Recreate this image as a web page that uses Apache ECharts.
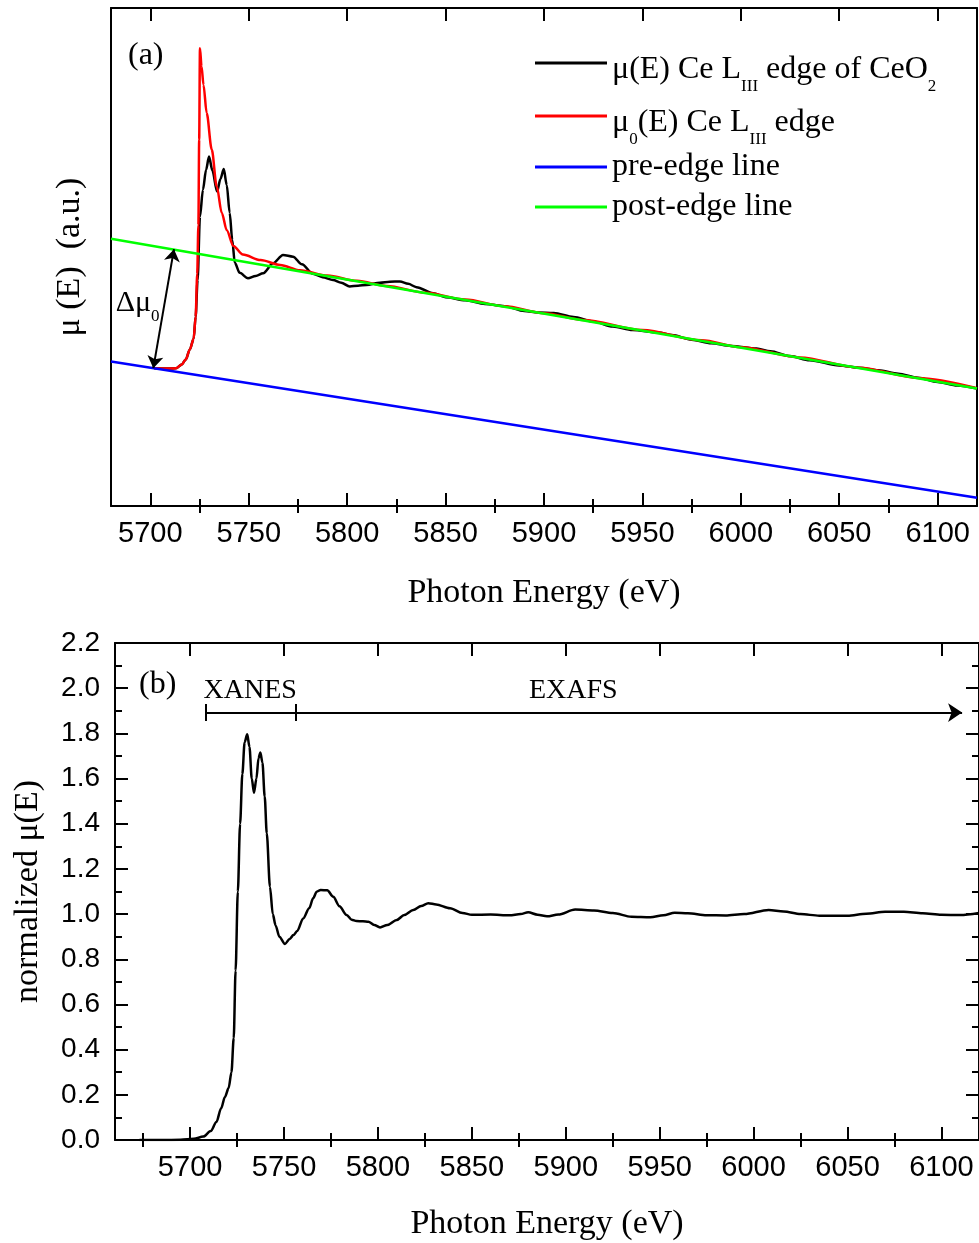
<!DOCTYPE html>
<html><head><meta charset="utf-8">
<script src="https://cdn.jsdelivr.net/npm/echarts@6/dist/echarts.min.js"></script>
<style>html,body{margin:0;padding:0;background:#fff}#c{width:979px;height:1243px}</style>
</head><body><div id="c"></div>
<script>
// ---------- Panel (a) data ----------
const energyMuA = [5702,5708,5713,5716,5718,5720,5722,5723,5724,5725.2,5726.7,5728.3,5729.8,5731.5,5733.9,5735.6,5737.3,5738.8,5740.3,5741.6,5742.9,5745.4,5749.6,5753.5,5757.3,5762.4,5767.4,5772.5,5777,5782.6,5787.5,5792.8,5797,5801.3,5805.5,5809.8,5816.6,5821.7,5826.8,5831,5835.2,5843.7,5850,5860,5870,5880,5890,5897,5905,5915,5925,5935,5945,5958,5965,5975,5985,5995,6008,6015,6025,6035,6050,6060,6070,6080,6090,6100,6110,6120];
const muA = [1.128,1.126,1.128,1.16,1.20,1.28,1.37,1.55,1.85,2.37,2.59,2.754,2.863,2.75,2.576,2.68,2.76,2.63,2.402,2.18,1.992,1.910,1.866,1.885,1.907,1.989,2.057,2.043,1.98,1.902,1.875,1.852,1.83,1.798,1.805,1.811,1.830,1.838,1.839,1.82,1.793,1.743,1.711,1.686,1.655,1.637,1.597,1.585,1.581,1.548,1.511,1.470,1.442,1.422,1.400,1.362,1.334,1.311,1.291,1.267,1.228,1.194,1.152,1.133,1.112,1.084,1.051,1.016,0.987,0.963];
const energyMu0A = [5702,5708,5713,5716,5718,5720,5722,5723,5723.8,5724.4,5724.8,5725.2,5726,5727,5728.6,5731.2,5733.7,5736.3,5738.8,5742.2,5747,5756,5766,5776,5790,5805,5820,5840,5860,5880,5900,5920,5950,5980,6000,6030,6060,6090,6120];
const mu0A = [1.128,1.126,1.128,1.16,1.20,1.28,1.37,1.55,1.9,2.3,3.0,3.75,3.6,3.45,3.22,2.92,2.62,2.40,2.26,2.13,2.06,2.015,1.975,1.932,1.888,1.845,1.803,1.747,1.692,1.636,1.580,1.524,1.441,1.357,1.301,1.217,1.133,1.049,0.965];
const preEdgeE = [5680, 6120];
const preEdgeV = [1.183, 0.068];
const postEdgeE = [5680, 6120];
const postEdgeV = [2.189, 0.963];
const deltaArrowE = [5701.5, 5712];
const deltaArrowV = [1.129, 2.104];

// ---------- Panel (b) data ----------
const energyB = [5673,5685,5695,5702,5707,5711,5714,5716.5,5718.5,5720.5,5722,5723.2,5724.2,5725.4,5726.6,5727.8,5729,5730.4,5731.6,5732.8,5734,5735.3,5736.4,5737.4,5738.5,5739.7,5740.8,5742.5,5744,5745.5,5747.5,5750.5,5753,5755,5757,5760.2,5763.4,5765.5,5767.4,5769.5,5773,5776.2,5779.5,5783.3,5786,5788.6,5792,5794.9,5798,5801.1,5805,5810,5814,5818.8,5823,5826.8,5831,5838.4,5845,5850,5860,5870,5876,5880,5885,5890,5896,5905,5915,5925,5935,5945,5952,5958,5965,5975,5985,5995,6008,6016,6025,6035,6050,6060,6070,6080,6090,6100,6110,6120];
const normMuB = [0.0,0.0,0.001,0.005,0.015,0.04,0.08,0.14,0.19,0.23,0.30,0.45,0.75,1.10,1.40,1.62,1.76,1.796,1.74,1.60,1.537,1.60,1.69,1.715,1.67,1.52,1.358,1.121,1.00,0.95,0.90,0.868,0.89,0.907,0.925,0.981,1.026,1.07,1.099,1.107,1.105,1.077,1.035,0.996,0.975,0.969,0.968,0.966,0.952,0.941,0.952,0.974,0.996,1.018,1.036,1.048,1.043,1.026,1.005,0.997,0.998,0.995,1.0,1.008,0.997,0.99,0.998,1.02,1.016,1.005,0.988,0.986,0.995,1.006,1.004,0.995,0.994,1.0,1.018,1.012,1.0,0.993,0.993,1.002,1.01,1.01,1.004,0.997,0.996,1.005];
const regionBarE = [5708.2, 5756.1, 6111];   // XANES start, XANES/EXAFS boundary, EXAFS arrow end
const regionBarV = 1.892;
const regionCapV = [1.855, 1.93];
const regionLabels = ['XANES', 'EXAFS'];
const regionLabelE = [5732, 5904];
const regionLabelV = 1.99;

// ---------- Tick labels ----------
const xMajorTicks = [5700,5750,5800,5850,5900,5950,6000,6050,6100];
const xMinorTicksA = [5725,5775,5825,5875,5925,5975,6025,6075];
const xMinorTicksB = [5675,5725,5775,5825,5875,5925,5975,6025,6075];
const yTicksB = ['0.0','0.2','0.4','0.6','0.8','1.0','1.2','1.4','1.6','1.8','2.0','2.2'];

const SANS = 'Liberation Sans, Arial, sans-serif';
const SERIF = 'Liberation Serif, Times New Roman, serif';
const zip = (a, b) => a.map((v, i) => [v, b[i]]);

const chart = echarts.init(document.getElementById('c'));

function xAx(grid, min, max, pos, ticks, len, opts) {
  return Object.assign({
    gridIndex: grid, type: 'value', min: min, max: max, position: pos,
    axisLine: {show: true, onZero: false, lineStyle: {color: '#000', width: 2}},
    axisTick: {show: true, inside: true, length: len, customValues: ticks, lineStyle: {color: '#000', width: 2}},
    axisLabel: {show: false},
    splitLine: {show: false}
  }, opts || {});
}
function xMain(grid, min, max, nameGap) {
  return xAx(grid, min, max, 'bottom', xMajorTicks, 13, {
    axisLabel: {show: true, customValues: xMajorTicks, margin: 13, fontFamily: SANS, fontSize: 29, color: '#000',
                formatter: (v) => String(Math.round(v))},
    name: 'Photon Energy (eV)', nameLocation: 'middle', nameGap: nameGap,
    nameTextStyle: {fontFamily: SERIF, fontSize: 34, color: '#000'}
  });
}

const legendRich = {
  m: {fontFamily: SERIF, fontSize: 32, lineHeight: 32, color: '#000', verticalAlign: 'top', padding: [7, 0, 0, 0]},
  s: {fontFamily: SERIF, fontSize: 17, lineHeight: 17, color: '#000', verticalAlign: 'top', padding: [31, 0, 0, 0]}
};
function legendRow(name, top, text) {
  return {
    data: [name], left: 535, top: top, icon: 'rect', itemWidth: 72, itemHeight: 3,
    selectedMode: false, padding: 0,
    formatter: () => text,
    textStyle: {fontFamily: SERIF, fontSize: 32, color: '#000', rich: legendRich}
  };
}

const option = {
  animation: false,
  backgroundColor: '#fff',
  grid: [
    {left: 111, top: 8, width: 866, height: 498},
    {left: 115, top: 643, width: 865, height: 497}
  ],
  legend: [
    legendRow('mu', 47, '{m|μ(E) Ce L}{s|III}{m| edge of CeO}{s|2}'),
    legendRow('mu0', 100, '{m|μ}{s|0}{m|(E) Ce L}{s|III}{m| edge}'),
    legendRow('pre', 151, 'pre-edge line'),
    legendRow('post', 191, 'post-edge line')
  ],
  xAxis: [
    // panel a
    xMain(0, 5680, 6120, 70),
    xAx(0, 5680, 6120, 'top', xMajorTicks, 13),
    xAx(0, 5680, 6120, 'top', xMinorTicksA, 7, {axisLine: {show: false}}),     // flips to bottom
    xAx(0, 5680, 6120, 'bottom', xMinorTicksA, 7, {axisLine: {show: false}}),  // flips to top
    // panel b
    xMain(1, 5660, 6120, 67),
    xAx(1, 5660, 6120, 'top', xMajorTicks, 13),
    xAx(1, 5660, 6120, 'top', xMinorTicksB, 7, {axisLine: {show: false}}),
    xAx(1, 5660, 6120, 'bottom', xMinorTicksB, 7, {axisLine: {show: false}})
  ],
  yAxis: [
    {gridIndex: 0, type: 'value', min: 0, max: 4.08, position: 'left',
     axisLine: {show: true, lineStyle: {color: '#000', width: 2}},
     axisTick: {show: false}, axisLabel: {show: false}, splitLine: {show: false},
     name: 'μ (E)  (a.u.)', nameLocation: 'middle', nameGap: 24,
     nameTextStyle: {fontFamily: SERIF, fontSize: 34, color: '#000'}},
    {gridIndex: 0, type: 'value', min: 0, max: 4.08, position: 'right',
     axisLine: {show: true, lineStyle: {color: '#000', width: 2}},
     axisTick: {show: false}, axisLabel: {show: false}, splitLine: {show: false}},
    {gridIndex: 1, type: 'value', min: 0, max: 2.2, interval: 0.2, position: 'left',
     axisLine: {show: true, lineStyle: {color: '#000', width: 2}},
     axisTick: {show: true, inside: true, length: 13, lineStyle: {color: '#000', width: 2}},
     minorTick: {show: true, splitNumber: 2, length: 7, lineStyle: {color: '#000', width: 2}},
     axisLabel: {margin: 15, fontFamily: SANS, fontSize: 28, color: '#000',
                 formatter: (v) => yTicksB[Math.round(v / 0.2)]},
     splitLine: {show: false},
     name: 'normalized μ(E)', nameLocation: 'middle', nameGap: 70,
     nameTextStyle: {fontFamily: SERIF, fontSize: 34, color: '#000'}},
    {gridIndex: 1, type: 'value', min: 0, max: 2.2, interval: 0.2, position: 'right',
     axisLine: {show: true, lineStyle: {color: '#000', width: 2}},
     axisTick: {show: true, inside: true, length: 13, lineStyle: {color: '#000', width: 2}},
     minorTick: {show: true, splitNumber: 2, length: 7, lineStyle: {color: '#000', width: 2}},
     axisLabel: {show: false}, splitLine: {show: false}}
  ],
  series: [
    {name: 'mu', type: 'line', xAxisIndex: 0, yAxisIndex: 0, data: zip(energyMuA, muA),
     showSymbol: false, smooth: 0.3, smoothMonotone: 'x', color: '#000',
     lineStyle: {color: '#000', width: 2.5}, z: 2,
     markLine: {silent: true, symbol: ['arrow', 'arrow'], symbolSize: 12,
       lineStyle: {color: '#000', width: 2, type: 'solid'}, label: {show: false},
       data: [[{coord: [deltaArrowE[0], deltaArrowV[0]]}, {coord: [deltaArrowE[1], deltaArrowV[1]]}]]},
     markPoint: {silent: true, symbol: 'rect', symbolSize: 1, itemStyle: {color: 'rgba(0,0,0,0)'},
       label: {show: true, position: 'inside', formatter: '{d|Δμ}{s|0}',
         rich: {d: {fontFamily: SERIF, fontSize: 30, lineHeight: 30, color: '#000', verticalAlign: 'top'},
                s: {fontFamily: SERIF, fontSize: 17, lineHeight: 17, color: '#000', verticalAlign: 'top', padding: [20, 0, 0, 0]}}},
       data: [{coord: [5693.5, 1.66]}]}},
    {name: 'mu0', type: 'line', xAxisIndex: 0, yAxisIndex: 0, data: zip(energyMu0A, mu0A),
     showSymbol: false, smooth: 0.3, smoothMonotone: 'x', color: '#ff0000',
     lineStyle: {color: '#ff0000', width: 2.5}, z: 3},
    {name: 'pre', type: 'line', xAxisIndex: 0, yAxisIndex: 0, data: zip(preEdgeE, preEdgeV),
     showSymbol: false, color: '#0000ff', lineStyle: {color: '#0000ff', width: 2.5}, z: 3},
    {name: 'post', type: 'line', xAxisIndex: 0, yAxisIndex: 0, data: zip(postEdgeE, postEdgeV),
     showSymbol: false, color: '#00ff00', lineStyle: {color: '#00ff00', width: 2.5}, z: 4},
    {name: 'norm', type: 'line', xAxisIndex: 4, yAxisIndex: 2, data: zip(energyB, normMuB),
     showSymbol: false, smooth: 0.3, smoothMonotone: 'x', color: '#000',
     lineStyle: {color: '#000', width: 2.5},
     markLine: {silent: true, symbol: ['none', 'none'], symbolSize: 14,
       lineStyle: {color: '#000', width: 2, type: 'solid'}, label: {show: false},
       data: [
         [{coord: [regionBarE[0], regionBarV]}, {coord: [regionBarE[1], regionBarV]}],
         [{coord: [regionBarE[1], regionBarV]}, {coord: [regionBarE[2], regionBarV], symbol: 'arrow', symbolSize: 14}],
         [{coord: [regionBarE[0], regionCapV[0]]}, {coord: [regionBarE[0], regionCapV[1]]}],
         [{coord: [regionBarE[1], regionCapV[0]]}, {coord: [regionBarE[1], regionCapV[1]]}]
       ]},
     markPoint: {silent: true, symbol: 'rect', symbolSize: 1, itemStyle: {color: 'rgba(0,0,0,0)'},
       label: {show: true, position: 'inside', fontFamily: SERIF, fontSize: 28, color: '#000',
               formatter: (p) => p.name},
       data: regionLabels.map((t, i) => ({name: t, coord: [regionLabelE[i], regionLabelV]}))}}
  ],
  graphic: [
    {type: 'text', left: 128, top: 40, style: {text: '(a)', font: '32px ' + SERIF, fill: '#000'}},
    {type: 'text', left: 139, top: 669, style: {text: '(b)', font: '32px ' + SERIF, fill: '#000'}}
  ]
};
chart.setOption(option);
</script>
</body></html>
